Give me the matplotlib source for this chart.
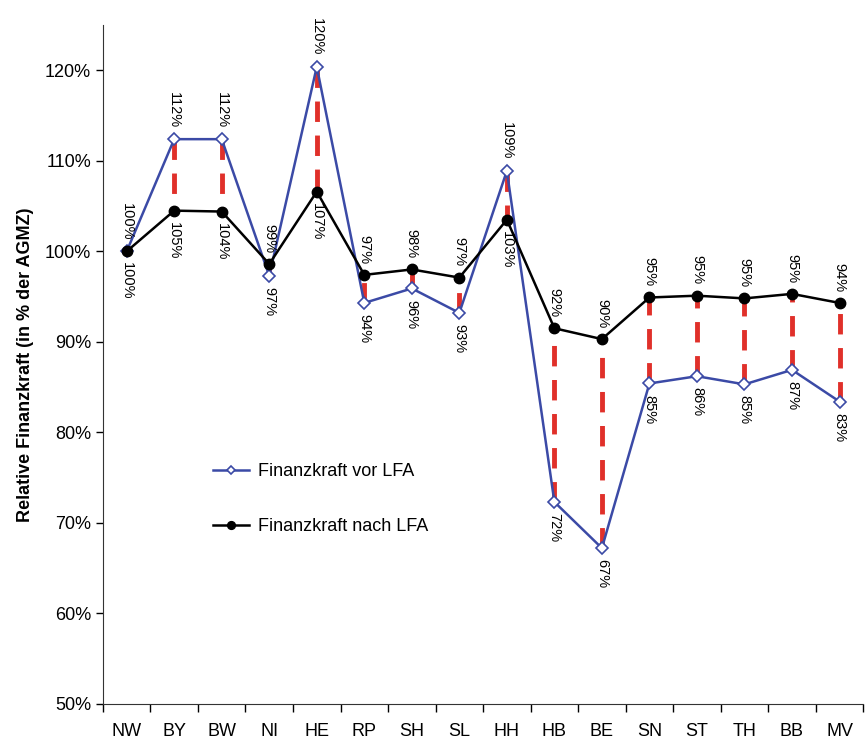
import matplotlib
matplotlib.use("Agg")
import matplotlib.pyplot as plt

plt.rcParams['font.family'] = ['Liberation Sans', 'DejaVu Sans']

laender = ['NW', 'BY', 'BW', 'NI', 'HE', 'RP', 'SH', 'SL',
           'HH', 'HB', 'BE', 'SN', 'ST', 'TH', 'BB', 'MV']
vor_lfa = [100.0, 112.4, 112.4, 97.3, 120.4, 94.3, 95.9, 93.2,
           108.9, 72.3, 67.2, 85.4, 86.2, 85.3, 86.9, 83.4]
nach_lfa = [100.0, 104.5, 104.4, 98.6, 106.6, 97.4, 98.0, 97.1,
            103.5, 91.5, 90.3, 94.9, 95.1, 94.8, 95.3, 94.3]
vor_txt = ['100%', '112%', '112%', '97%', '120%', '94%', '96%', '93%',
           '109%', '72%', '67%', '85%', '86%', '85%', '87%', '83%']
nach_txt = ['100%', '105%', '104%', '99%', '107%', '97%', '98%', '97%',
            '103%', '92%', '90%', '95%', '95%', '95%', '95%', '94%']

blau = '#3b4aa6'
rot = '#e0302a'

fig = plt.figure(figsize=(8.65, 7.4), dpi=100)
ax = fig.add_axes([0.119, 0.049, 0.879, 0.917])

x = list(range(len(laender)))

# red dashed connectors between before / after
for i in x:
    ax.plot([i, i], [vor_lfa[i], nach_lfa[i]], color=rot, lw=3.5,
            dashes=(4.2, 2.8), zorder=1, solid_capstyle='butt')

ax.plot(x, vor_lfa, color=blau, lw=1.8, marker='D', ms=6,
        mfc='white', mec=blau, mew=1.2, zorder=3, label='Finanzkraft vor LFA')
ax.plot(x, nach_lfa, color='black', lw=1.8, marker='o', ms=7.5,
        mfc='black', mec='black', zorder=4, label='Finanzkraft nach LFA')

# value labels: higher one above, lower one below
for i in x:
    v, n = vor_lfa[i], nach_lfa[i]
    if v >= n:
        oben, unten = (v, vor_txt[i]), (n, nach_txt[i])
    else:
        oben, unten = (n, nach_txt[i]), (v, vor_txt[i])
    ax.annotate(oben[1], (i, oben[0]), xytext=(0, 8), textcoords='offset points',
                rotation=-90, ha='center', va='bottom', fontsize=10.5)
    ax.annotate(unten[1], (i, unten[0]), xytext=(0, -8), textcoords='offset points',
                rotation=-90, ha='center', va='top', fontsize=10.5)

ax.set_xlim(-0.5, len(laender) - 0.5)
ax.set_ylim(50, 125)
ax.set_yticks(range(50, 121, 10))
ax.set_yticklabels([f'{t}%' for t in range(50, 121, 10)], fontsize=13)
ax.set_xticks(x)
ax.set_xticklabels(laender, fontsize=13)
ax.set_xticks([i - 0.5 for i in range(len(laender) + 1)], minor=True)
ax.tick_params(axis='x', which='major', length=0, pad=14)
ax.tick_params(axis='x', which='minor', length=6, width=1, direction='out')
ax.tick_params(axis='y', length=5, width=1, direction='out')

ax.spines['top'].set_visible(False)
ax.spines['right'].set_visible(False)
ax.spines['left'].set_color('#333333')
ax.spines['bottom'].set_color('#333333')

ax.set_ylabel('Relative Finanzkraft (in % der AGMZ)', fontsize=13,
              fontweight='bold', labelpad=8)

ax.legend(loc='upper left', bbox_to_anchor=(0.123, 0.378), frameon=False,
          fontsize=13, handlelength=2.0, labelspacing=2.1, handletextpad=0.5,
          markerscale=0.75)

fig.savefig('out.png', dpi=100)
